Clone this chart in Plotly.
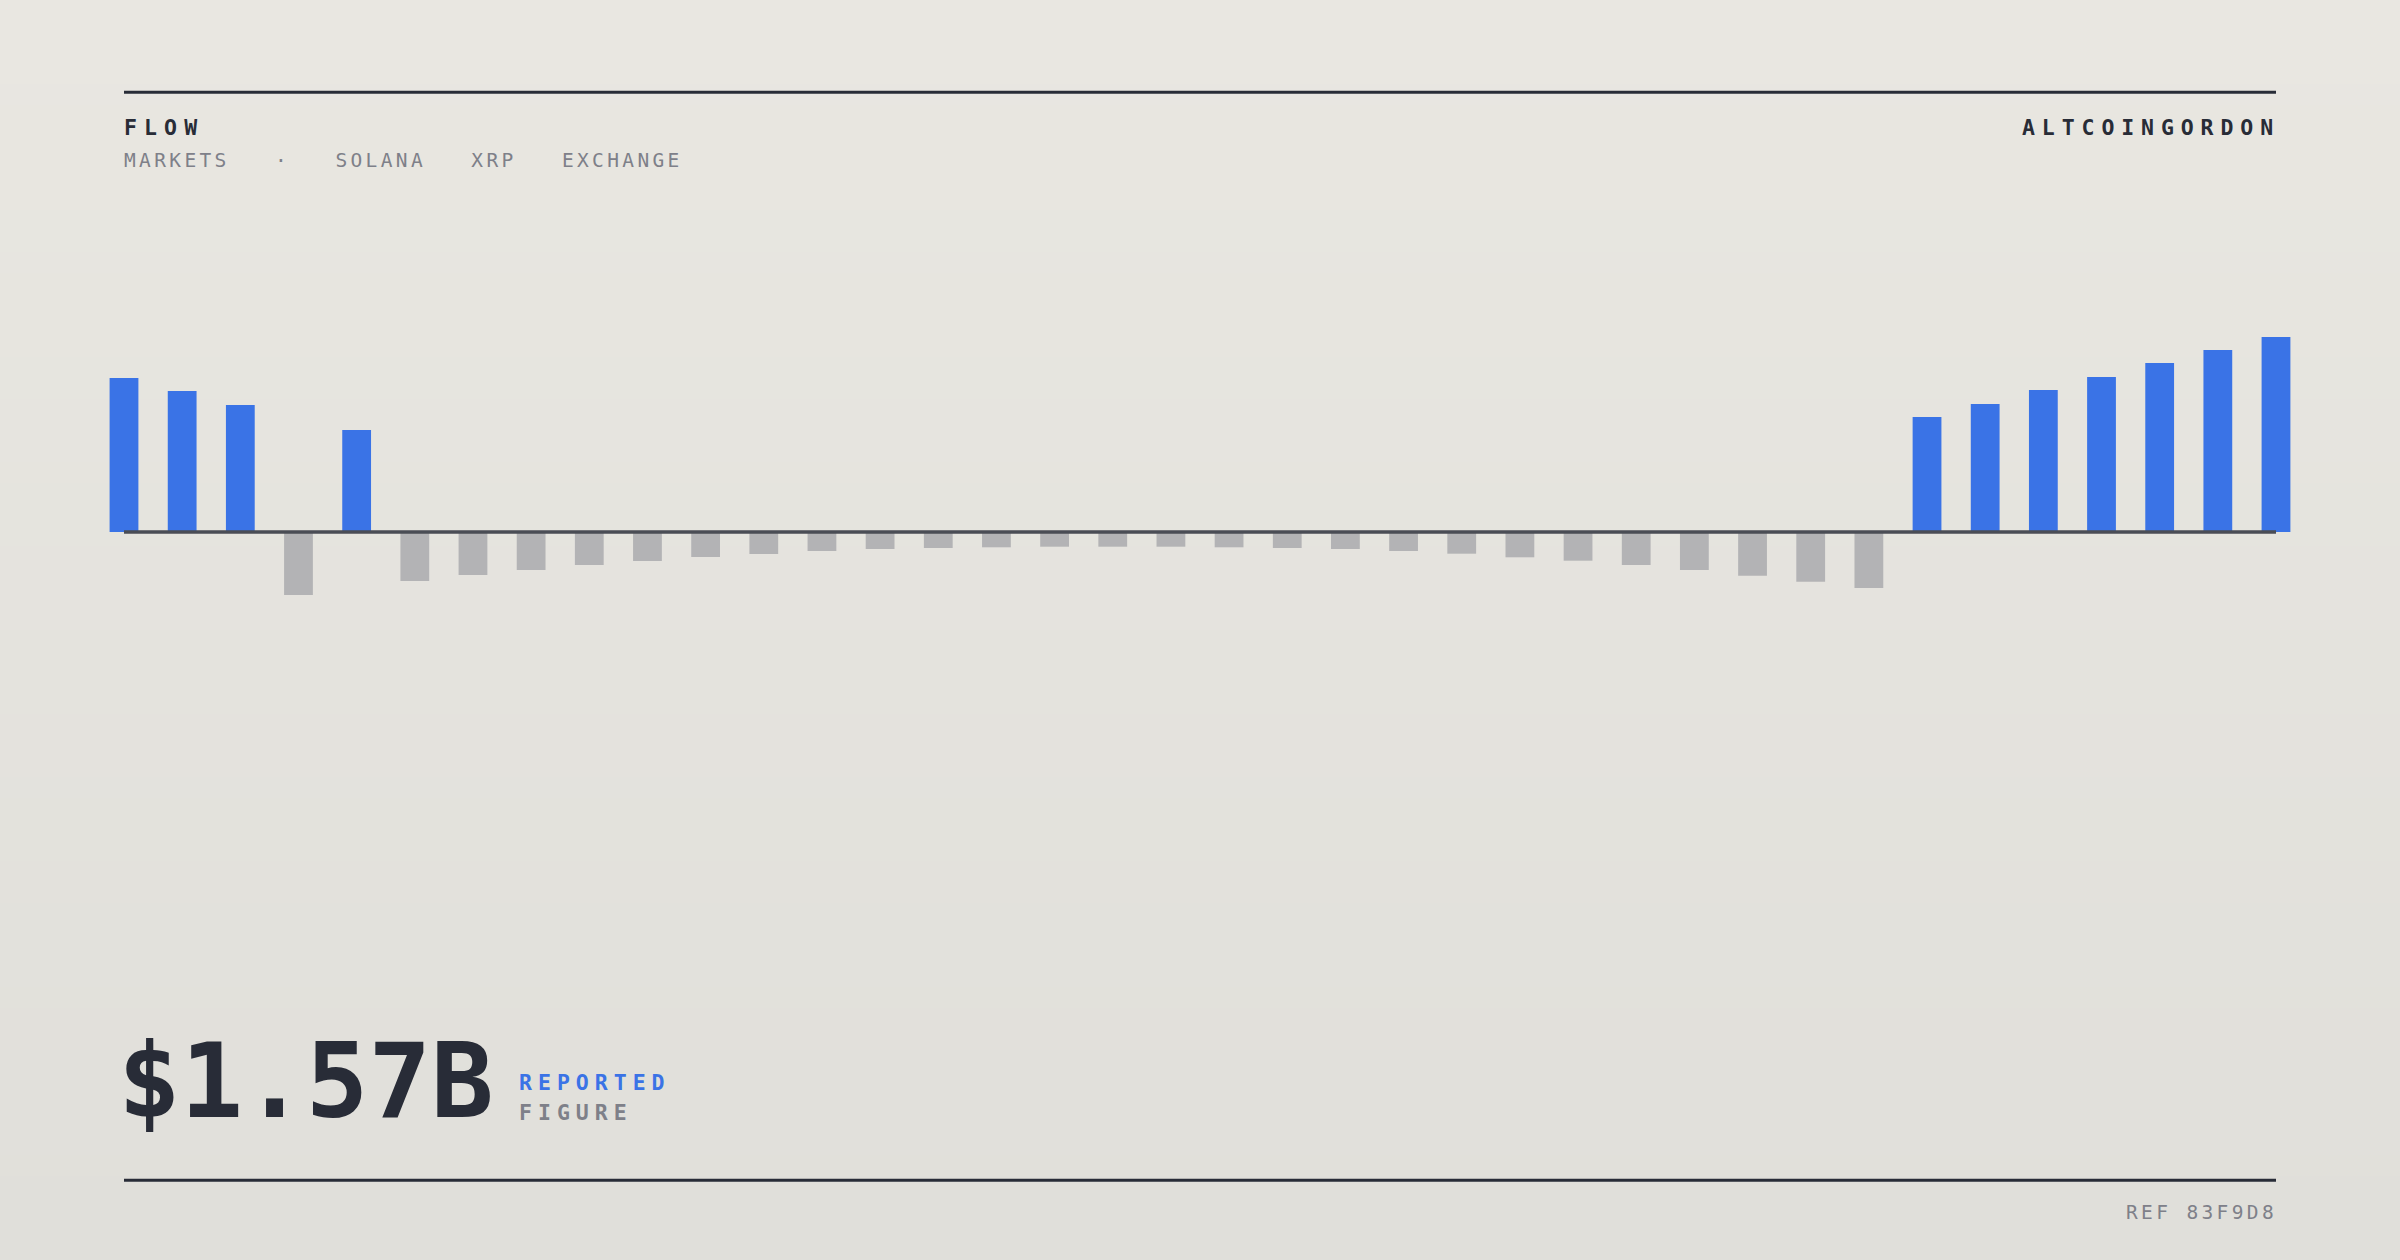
import plotly.graph_objects as go

# ---------------- data ----------------
periods = list(range(38))
flows = [15.4, 14.1, 12.7, -6.3, 10.2, -4.9, -4.3, -3.8, -3.3, -2.9, -2.5, -2.2,
         -1.9, -1.7, -1.6, -1.53, -1.47, -1.47, -1.47, -1.53, -1.6, -1.7, -1.9,
         -2.17, -2.53, -2.87, -3.3, -3.8, -4.37, -4.97, -5.6,
         11.5, 12.8, 14.2, 15.5, 16.9, 18.2, 19.5]
title_text = "FLOW"
subtitle_items = ["MARKETS", "·", "SOLANA", "XRP", "EXCHANGE"]
brand_text = "ALTCOINGORDON"
headline_value = "$1.57B"
headline_label_1 = "REPORTED"
headline_label_2 = "FIGURE"
ref_text = "REF 83F9D8"

# ---------------- style ----------------
W, H = 2400, 1260
BLUE = "#3A73E6"
GREY_BAR = "#B3B3B5"
DARK = "#282C37"
MUTED = "#7E8089"
BASE = "#4A4D55"
MONO = "DejaVu Sans Mono"

def px(x):
    return x / W

def py(y):
    return 1 - y / H

def spaced(text, ls):
    return '<span style="letter-spacing:%.2fpx">%s</span>' % (ls, text)

colors = [BLUE if v > 0 else GREY_BAR for v in flows]

fig = go.Figure()
fig.add_trace(go.Bar(
    x=periods, y=flows, marker=dict(color=colors, line=dict(width=0)),
    hoverinfo="skip", showlegend=False,
))

# background gradient bands
shapes = []
top = (233, 231, 225)
bot = (224, 223, 218)
n = 60
for i in range(n):
    t = i / (n - 1)
    c = tuple(round(top[k] + (bot[k] - top[k]) * t) for k in range(3))
    shapes.append(dict(type="rect", xref="paper", yref="paper",
                       x0=0, x1=1, y0=1 - (i + 1) / n - 0.001, y1=1 - i / n,
                       fillcolor="rgb(%d,%d,%d)" % c, line=dict(width=0),
                       layer="below"))

# rules
for yy in (92.3, 1180.3):
    shapes.append(dict(type="line", xref="paper", yref="paper",
                       x0=px(124), x1=px(2276), y0=py(yy), y1=py(yy),
                       line=dict(color=DARK, width=3), layer="above"))
# baseline
shapes.append(dict(type="line", xref="x", yref="y", x0=periods[0], x1=periods[-1],
                   y0=0, y1=0, line=dict(color=BASE, width=3.5), layer="above"))

annotations = []
def ann(text, x, y, size, color, bold=False, xanchor="left"):
    annotations.append(dict(
        text=text, x=px(x), y=py(y), xref="paper", yref="paper",
        xanchor=xanchor, yanchor="middle", showarrow=False, borderpad=0,
        font=dict(family=MONO, size=size, color=color,
                  weight="bold" if bold else "normal"),
    ))

NB = "\u00a0" * 3
ann(spaced(title_text, 7.1), 122.5, 127.2, 21.5, DARK, bold=True)
ann(spaced(NB.join(subtitle_items), 3.36), 122.5, 160.5, 19.5, MUTED)
ann(spaced(brand_text, 6.9), 2280.5, 127.2, 21.5, DARK, bold=True, xanchor="right")
ann(headline_value, 117, 1081, 104, DARK, bold=True)
ann(spaced(headline_label_1, 6.0), 518, 1082.8, 21.5, BLUE, bold=True)
ann(spaced(headline_label_2, 6.0), 518, 1112.8, 21.5, MUTED, bold=True)
ann(spaced(ref_text, 3.36), 2278, 1212.8, 19.5, MUTED, xanchor="right")

# axis ranges so that bar 0 centre sits at 124 px and last at 2276 px, baseline at 532 px
ppu_x = (2276 - 124) / (len(periods) - 1)
x0 = periods[0] - 124 / ppu_x
x1 = periods[0] + (W - 124) / ppu_x
ppu_y = 10.0
y1 = 532 / ppu_y
y0 = -(H - 532) / ppu_y

fig.update_layout(
    width=W, height=H, margin=dict(l=0, r=0, t=0, b=0),
    paper_bgcolor="rgb(229,227,222)", plot_bgcolor="rgba(0,0,0,0)",
    bargap=0.505,
    xaxis=dict(range=[x0, x1], visible=False, fixedrange=True),
    yaxis=dict(range=[y0, y1], visible=False, fixedrange=True),
    shapes=shapes, annotations=annotations,
)

fig.write_html("out.html", config={"displayModeBar": False},
               post_script="document.body.style.margin='0';document.body.style.overflow='hidden';")
